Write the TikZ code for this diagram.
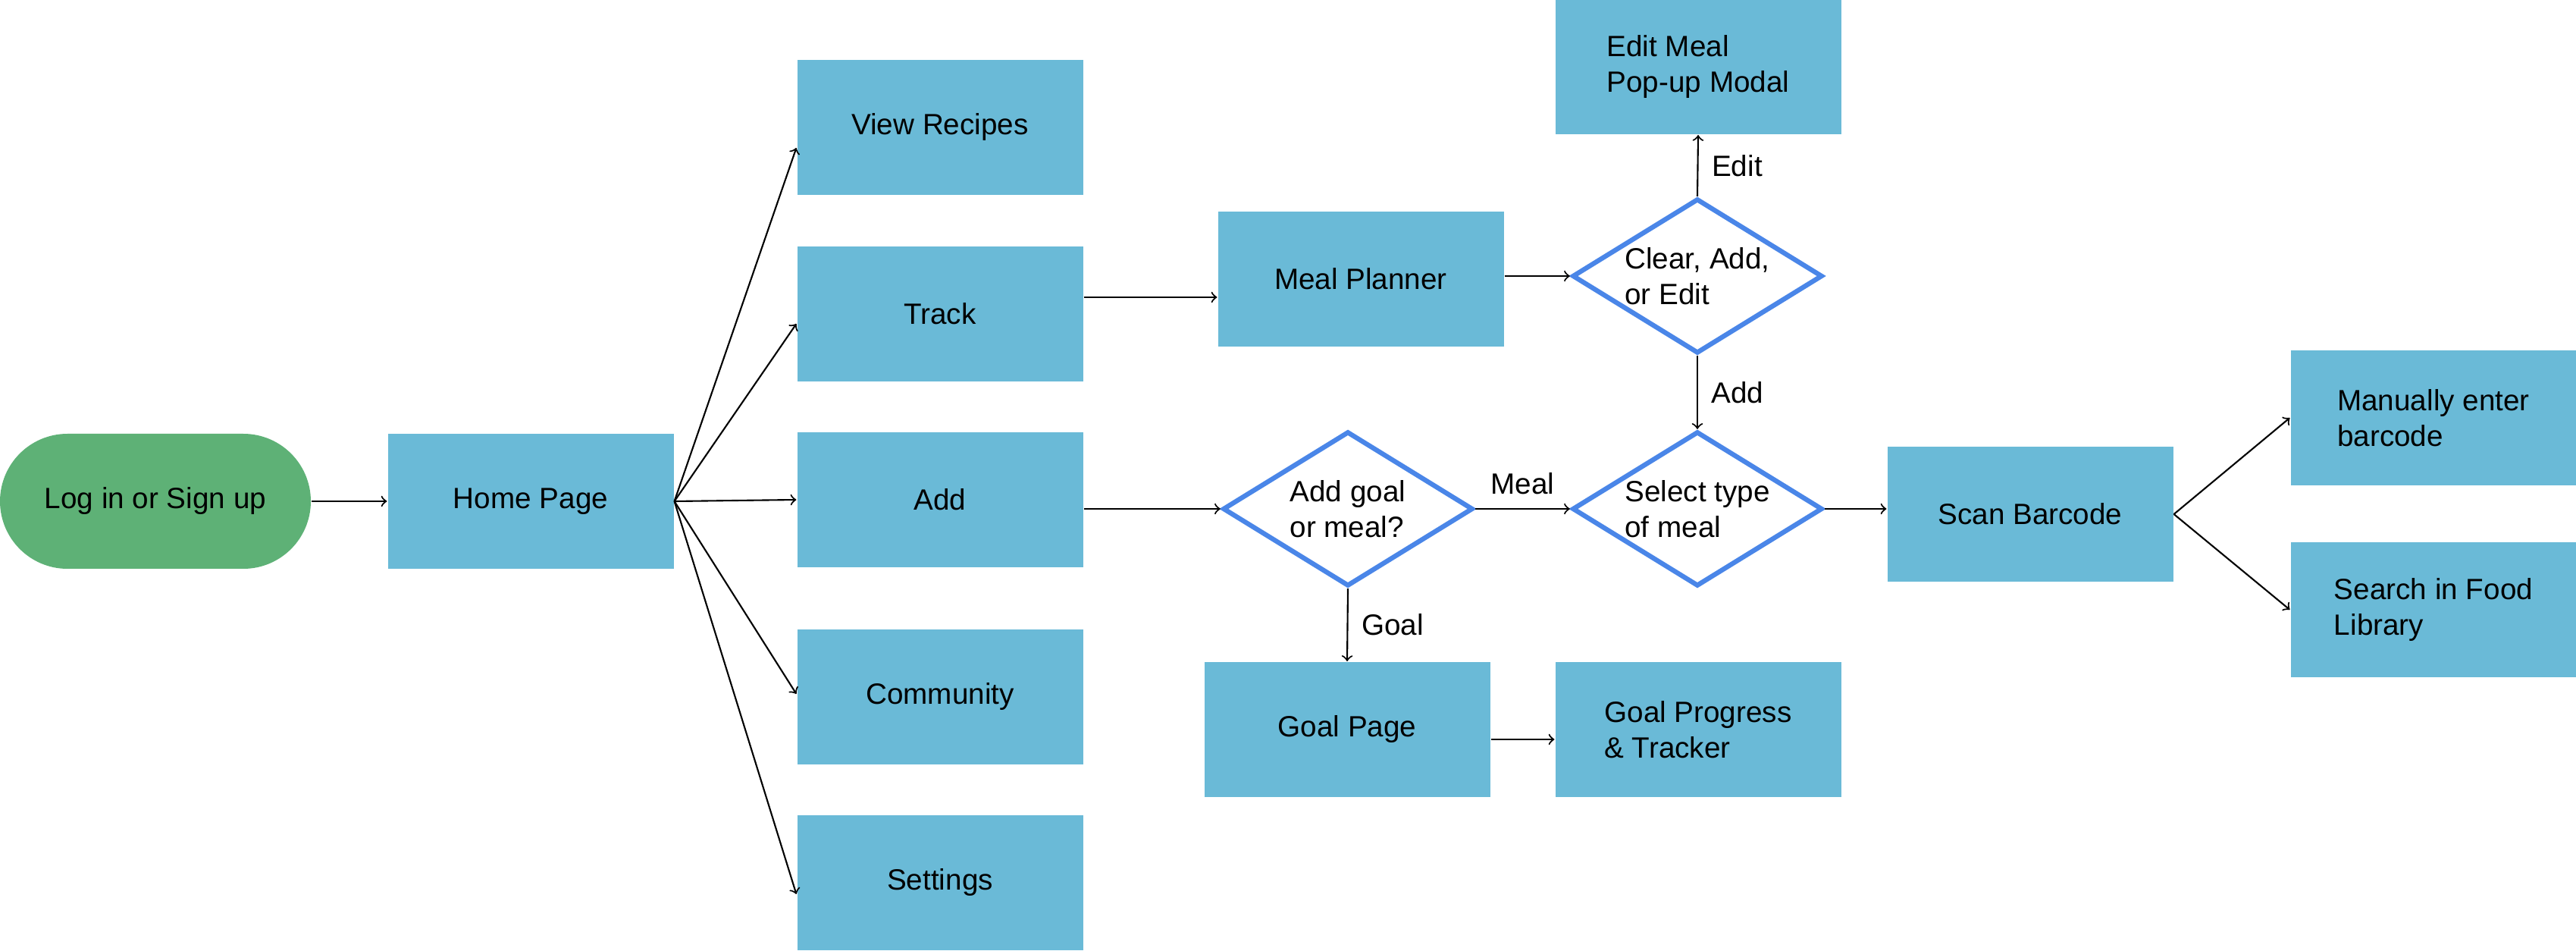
\documentclass[tikz,border=0pt]{standalone}
\usepackage{fontspec}
\setmainfont{Liberation Sans}
\usetikzlibrary{shapes.geometric}
\definecolor{boxblue}{HTML}{6ABAD7}
\definecolor{startgreen}{HTML}{5EB176}
\definecolor{edgeblue}{HTML}{4A86E8}

\begin{document}
\begin{tikzpicture}[line width=.6pt, >=to, font=\fontsize{11}{13.5}\selectfont,
  box/.style={fill=boxblue, minimum width=3.77cm, minimum height=1.78cm, inner sep=2pt, align=left},
  start/.style={fill=startgreen, minimum width=4.1cm, minimum height=1.78cm, rounded corners=0.89cm},
  choice/.style={diamond, aspect=1.6, draw=edgeblue, line width=1.8pt, minimum width=3.3cm, minimum height=2.04cm, inner sep=0pt, align=left},
  lbl/.style={inner sep=5pt}]
\useasboundingbox (0,0) rectangle (33.98,-12.54);
% left part
\node[start] (login) at (2.05,-6.61) {Log in or Sign up};
\node[box] (home) at (7.00,-6.61) {Home Page};
\node[box] (view) at (12.40,-1.68) {View Recipes};
\node[box] (track) at (12.40,-4.14) {Track};
\node[box] (add) at (12.40,-6.59) {Add};
\node[box] (community) at (12.40,-9.19) {Community};
\node[box] (settings) at (12.40,-11.64) {Settings};
% middle part
\node[box] (planner) at (17.95,-3.68) {Meal Planner};
\node[choice] (clear) at (22.39,-3.64) {Clear, Add,\\or Edit};
\node[box] (edit) at (22.40,-0.88) {Edit Meal\\Pop-up Modal};
\node[choice] (addgoal) at (17.78,-6.71) {Add goal\\or meal?};
\node[choice] (select) at (22.39,-6.71) {Select type\\of meal};
\node[box] (goalpage) at (17.77,-9.62) {Goal Page};
\node[box] (progress) at (22.40,-9.62) {Goal Progress\\\& Tracker};
% right part
\node[box] (scan) at (26.78,-6.78) {Scan Barcode};
\node[box] (manual) at (32.10,-5.51) {Manually enter\\barcode};
\node[box] (search) at (32.10,-8.04) {Search in Food\\Library};

\draw[->] (login) -- (home);
\draw[->] (home.east) -- ([yshift=-0.27cm]view.west);
\draw[->] (home.east) -- ([yshift=-0.13cm]track.west);
\draw[->] (home.east) -- (add.west);
\draw[->] (home.east) -- ([yshift=0.04cm]community.west);
\draw[->] (home.east) -- ([yshift=-0.15cm]settings.west);
\draw[->] ([yshift=0.22cm]track.east) -- ([yshift=0.22cm]track.east -| planner.west);
\draw[->] (planner.east |- clear.west) -- (clear.west);
\draw[->] (clear.north) -- node[right,lbl] {Edit} (edit.south);
\draw[->] (clear.south) -- node[right,lbl] {Add} (select.north);
\draw[->] (add.east |- addgoal.west) -- (addgoal.west);
\draw[->] (addgoal.east) -- node[above,lbl] {Meal} (select.west);
\draw[->] (addgoal.south) -- node[right,lbl] {Goal} (goalpage.north);
\draw[->] ([yshift=-0.13cm]goalpage.east) -- ([yshift=-0.13cm]goalpage.east -| progress.west);
\draw[->] (select.east) -- (select.east -| scan.west);
\draw[->] (scan.east) -- (manual.west);
\draw[->] (scan.east) -- (search.west);
\end{tikzpicture}
\end{document}
